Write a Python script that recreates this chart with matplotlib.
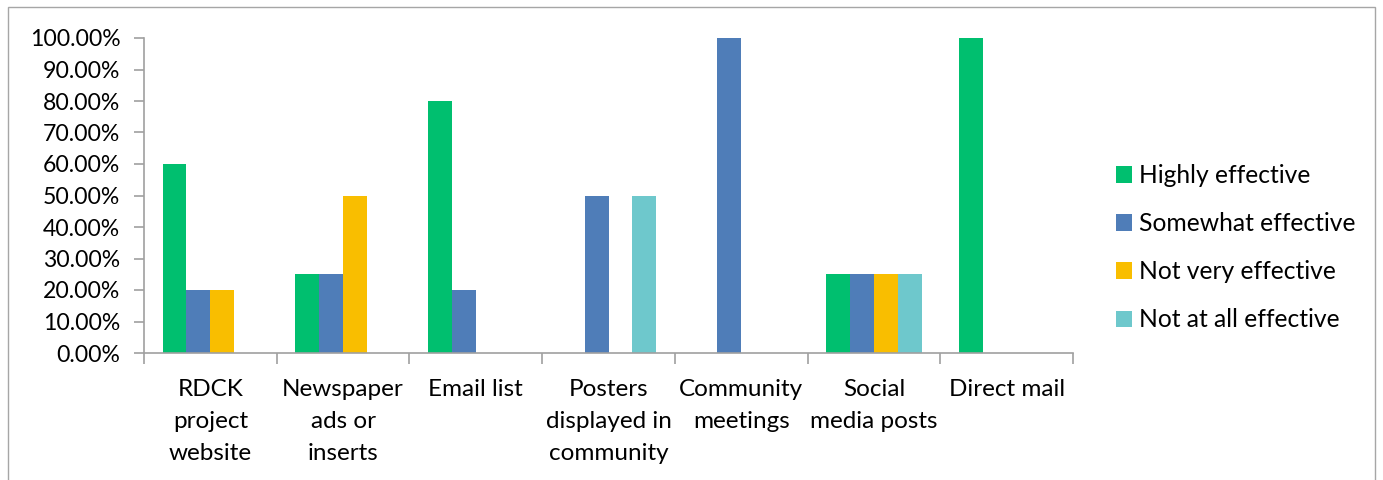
import numpy as np
import matplotlib
matplotlib.use("Agg")
import matplotlib.pyplot as plt
from matplotlib.patches import Rectangle
from matplotlib.ticker import FuncFormatter

# data
categories = ["RDCK\nproject\nwebsite", "Newspaper\nads or\ninserts", "Email list",
              "Posters\ndisplayed in\ncommunity", "Community\nmeetings",
              "Social\nmedia posts", "Direct mail"]
series = ["Highly effective", "Somewhat effective", "Not very effective", "Not at all effective"]
highly = [0.60, 0.25, 0.80, 0.0, 0.0, 0.25, 1.00]
somewhat = [0.20, 0.25, 0.20, 0.50, 1.00, 0.25, 0.0]
not_very = [0.20, 0.50, 0.0, 0.0, 0.0, 0.25, 0.0]
not_at_all = [0.0, 0.0, 0.0, 0.50, 0.0, 0.25, 0.0]
colors = ["#00BF6F", "#4F7DB8", "#F9BE00", "#6EC8CC"]

plt.rcParams['font.family'] = ['Lato', 'DejaVu Sans']

fig = plt.figure(figsize=(13.83, 4.8), dpi=100)
fig.patches.append(Rectangle((8 / 1383, -0.1), (1375 - 8) / 1383, 1.1 - 7 / 480,
                             transform=fig.transFigure, fill=False,
                             edgecolor="#A6A6A6", linewidth=1.0))
ax = fig.add_axes([144 / 1383, 1 - 353 / 480, (1073 - 144) / 1383, (353 - 38) / 480])

x = np.arange(len(categories))
w = 0.18
for i, (vals, c, name) in enumerate(zip([highly, somewhat, not_very, not_at_all], colors, series)):
    ax.bar(x + (i - 1.5) * w, vals, w, color=c, label=name, linewidth=0)

ax.set_xlim(-0.5, len(categories) - 0.5)
ax.set_ylim(0, 1.0)
ax.set_yticks(np.arange(0, 1.01, 0.1))
ax.yaxis.set_major_formatter(FuncFormatter(lambda v, p: "%.2f%%" % (v * 100)))
ax.tick_params(axis='y', labelsize=16.6, length=7, color="#A0A0A0", width=1.2, pad=10)

ax.set_xticks(np.arange(-0.5, len(categories), 1.0))
ax.set_xticklabels([])
ax.set_xticks(x, minor=True)
ax.set_xticklabels(categories, minor=True, fontsize=17.5)
ax.tick_params(axis='x', which='major', length=8, color="#A0A0A0", width=1.2)
ax.tick_params(axis='x', which='minor', length=0, pad=18.5)
for lab in ax.get_xticklabels(minor=True):
    lab.set_verticalalignment('top')
    lab.set_linespacing(1.66)

for s in ['top', 'right']:
    ax.spines[s].set_visible(False)
for s in ['left', 'bottom']:
    ax.spines[s].set_color("#A0A0A0")
    ax.spines[s].set_linewidth(1.2)

leg = ax.legend(loc='center left', bbox_to_anchor=(1.022, 0.334), frameon=False,
                fontsize=17.7, handlelength=0.65, handleheight=0.65, handletextpad=0.3,
                labelspacing=1.02)

fig.savefig("out.png", dpi=100)
